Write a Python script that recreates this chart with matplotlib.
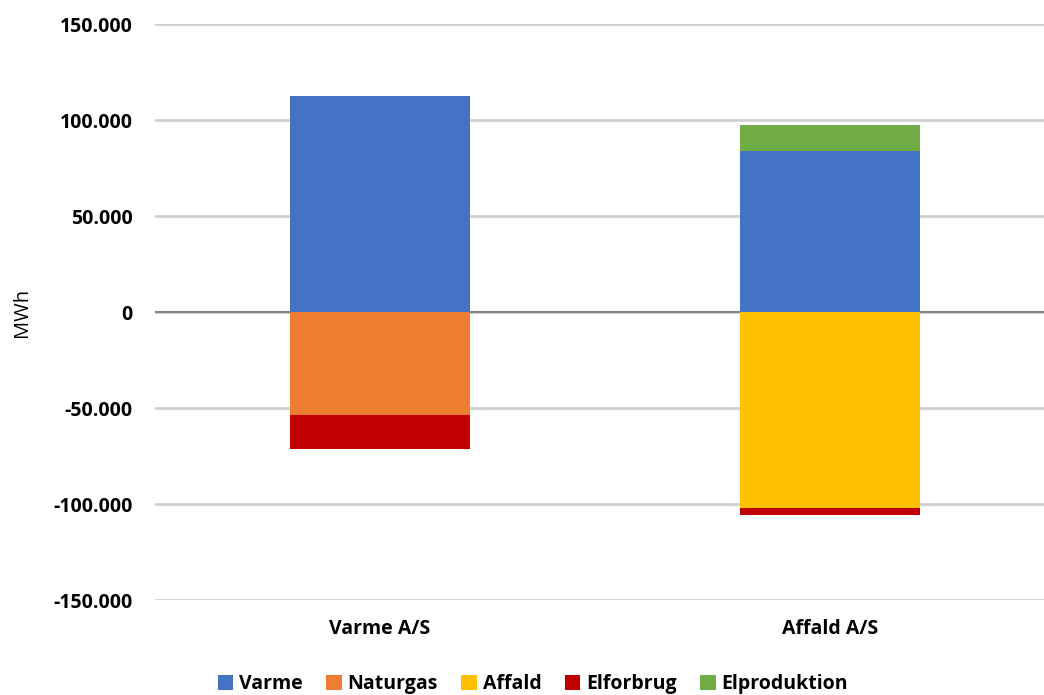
import matplotlib
matplotlib.use("Agg")
import matplotlib.pyplot as plt
from matplotlib.ticker import FuncFormatter, MultipleLocator
import numpy as np

# Energy balance per company (MWh): positive = output, negative = input
categories = ["Varme A/S", "Affald A/S"]
varme = [112500, 84000]
naturgas = [-53900, 0]
affald = [0, -102100]
elforbrug = [-17200, -3800]
elproduktion = [0, 13500]

series_names = ["Varme", "Naturgas", "Affald", "Elforbrug", "Elproduktion"]
colors = {
    "Varme": "#4472C4",
    "Naturgas": "#ED7D31",
    "Affald": "#FFC000",
    "Elforbrug": "#C00000",
    "Elproduktion": "#70AD47",
}

plt.rcParams["font.family"] = ["Open Sans", "DejaVu Sans"]

fig = plt.figure(figsize=(10.44, 6.95), dpi=100)
ax = fig.add_axes([155 / 1044, 1 - 600 / 695, 900 / 1044, 576 / 695])

x = np.arange(len(categories))
width = 0.40

series = {
    "Varme": varme,
    "Naturgas": naturgas,
    "Affald": affald,
    "Elforbrug": elforbrug,
    "Elproduktion": elproduktion,
}

pos_base = np.zeros(len(categories))
neg_base = np.zeros(len(categories))
handles = {}
for name in series_names:
    vals = np.array(series[name], dtype=float)
    bottoms = np.where(vals >= 0, pos_base, neg_base)
    bars = ax.bar(x, vals, width, bottom=bottoms, color=colors[name],
                  label=name, zorder=3, linewidth=0)
    handles[name] = bars
    pos_base = pos_base + np.where(vals > 0, vals, 0)
    neg_base = neg_base + np.where(vals < 0, vals, 0)

ax.set_xlim(-0.5, 1.5)
ax.set_ylim(-150000, 150000)
ax.yaxis.set_major_locator(MultipleLocator(50000))
ax.yaxis.set_major_formatter(
    FuncFormatter(lambda v, p: f"{v:,.0f}".replace(",", ".")))

ax.grid(axis="y", color="#D0D0D0", linewidth=2, zorder=0)
ax.axhline(0, color="#868686", linewidth=1.5, zorder=2)
for s in ax.spines.values():
    s.set_visible(False)
ax.tick_params(axis="both", length=0)
ax.tick_params(axis="y", pad=16)
ax.tick_params(axis="x", pad=14)

ax.set_xticks(x)
ax.set_xticklabels(categories, fontsize=14, fontweight="bold")
for lbl in ax.get_yticklabels():
    lbl.set_fontsize(14)
    lbl.set_fontweight("bold")

fig.text(22 / 1044, 1 - 312 / 695, "MWh", rotation=90, fontsize=14.5,
         ha="center", va="center")

fig.legend([handles[n] for n in series_names], series_names,
           loc="center", bbox_to_anchor=(533 / 1044, 1 - 684 / 695),
           ncol=5, frameon=False, handlelength=0.8, handleheight=0.8,
           handletextpad=0.3, columnspacing=1.2,
           prop={"size": 14, "weight": "bold"})

fig.savefig("out.png", dpi=100)
